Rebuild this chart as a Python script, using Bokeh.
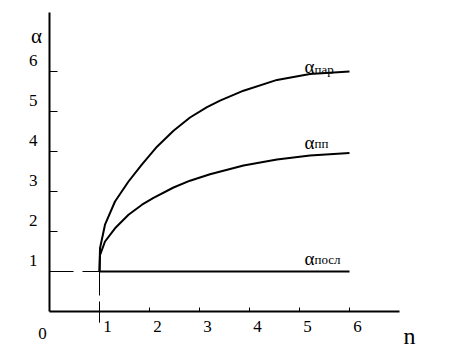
from bokeh.plotting import figure
from bokeh.models import Range1d, FixedTicker, Label
from bokeh.embed import file_html
from bokeh.resources import INLINE

# ---- data ----
n_par = [1.00, 1.01, 1.11, 1.31, 1.58, 1.85, 2.15, 2.48, 2.81, 3.15, 3.41, 3.88, 4.55, 5.21, 6.00]
a_par = [1.00, 1.58, 2.17, 2.75, 3.25, 3.68, 4.12, 4.52, 4.85, 5.11, 5.27, 5.52, 5.79, 5.94, 6.00]

n_pp = [1.00, 1.01, 1.11, 1.31, 1.58, 1.85, 2.08, 2.48, 2.81, 3.21, 3.88, 4.55, 5.21, 6.00]
a_pp = [1.00, 1.41, 1.75, 2.08, 2.42, 2.67, 2.84, 3.10, 3.27, 3.43, 3.65, 3.80, 3.90, 3.96]

n_posl = [1.0, 6.0]
a_posl = [1.0, 1.0]

x_ticks = [1, 2, 3, 4, 5, 6]
x_tick_labels = ["1", "2", "3", "4", "5", "6"]
y_ticks = [1, 2, 3, 4, 5, 6]
y_tick_labels = ["1", "2", "3", "4", "5", "6"]
x_axis_max = 7.0
y_axis_max = 7.475
origin_label = "0"
x_title = "n"
y_title = "α"
series_sub = ["пар", "пп", "посл"]

FONT = "Liberation Serif"

# frame covers the whole canvas; axes are pinned at 0 with fixed_location
p = figure(width=450, height=353, output_backend="svg", toolbar_location=None,
           x_range=Range1d(-0.98, 8.02), y_range=Range1d(-1.05, 7.775),
           min_border=0)
p.grid.visible = False
p.outline_line_color = None
p.background_fill_color = "white"
p.border_fill_color = "white"

# tick labels sit beside their ticks (right of x ticks, above y ticks), as in the reference:
# labels are put on major ticks, the visible tick marks are the minor ticks.
X_SHIFT = 0.16   # 8 px to the right
Y_SHIFT = 0.275  # 11 px upward
xl_pos = [t + X_SHIFT for t in x_ticks]
yl_pos = [t + Y_SHIFT for t in y_ticks]

for ax, ticks, lpos, labs, tin, bnd, standoff in (
        (p.xaxis, x_ticks, xl_pos, x_tick_labels, 4, (0, x_axis_max), 9),
        (p.yaxis, y_ticks, yl_pos, y_tick_labels, 8, (0, y_axis_max), 12)):
    ax.fixed_location = 0
    ax.bounds = bnd
    ax.ticker = FixedTicker(ticks=lpos, minor_ticks=ticks)
    ax.major_label_overrides = {pos: lab for pos, lab in zip(lpos, labs)}
    ax.major_tick_line_color = None
    ax.major_tick_in = 0
    ax.major_tick_out = 0
    ax.minor_tick_in = tin
    ax.minor_tick_out = 0
    ax.minor_tick_line_color = "black"
    ax.minor_tick_line_width = 1
    ax.axis_line_width = 2
    ax.axis_line_color = "black"
    ax.major_label_standoff = standoff
    ax.major_label_text_font = FONT
    ax.major_label_text_font_size = "17px"
    ax.major_label_text_color = "black"

# dashed guides from axes to start point
p.line([0, n_posl[0]], [a_posl[0], a_posl[0]], line_color="black",
       line_width=1, line_dash="24 9")
p.line([n_posl[0], n_posl[0]], [a_posl[0], -0.28], line_color="black",
       line_width=1, line_dash="24 6")

# curves
p.line(n_par, a_par, line_color="black", line_width=2)
p.line(n_pp, a_pp, line_color="black", line_width=2)
p.line(n_posl, a_posl, line_color="black", line_width=2)

# origin label
p.add_layout(Label(x=0, y=0, text=origin_label, x_offset=-7, y_offset=-22,
                   text_align="center", text_baseline="alphabetic",
                   text_font=FONT, text_font_size="17px", text_color="black"))

# axis titles
p.add_layout(Label(x=0, y=7, text=y_title, x_offset=-13, y_offset=-4,
                   text_align="center", text_baseline="alphabetic",
                   text_font=FONT, text_font_size="21px", text_color="black"))
p.add_layout(Label(x=x_axis_max, y=0, text=x_title, x_offset=10, y_offset=-24,
                   text_align="center", text_baseline="alphabetic",
                   text_font=FONT, text_font_size="24px", text_color="black"))

# curve labels: α with a lowered subscript
ends = [(n_par[-1], a_par[-1], 5, 2), (n_pp[-1], a_pp[-1], 11, 10), (n_posl[-1], a_posl[-1], 13, 12)]
for (xe, ye, ya, ys), sub in zip(ends, series_sub):
    p.add_layout(Label(x=xe, y=ye, text="α", x_offset=-45, y_offset=ya,
                       text_align="left", text_baseline="alphabetic",
                       text_font=FONT, text_font_size="19px", text_color="black"))
    p.add_layout(Label(x=xe, y=ye, text=sub, x_offset=-35, y_offset=ys,
                       text_align="left", text_baseline="alphabetic",
                       text_font=FONT, text_font_size="13px", text_color="black"))

open("out.html", "w").write(file_html(p, INLINE))
